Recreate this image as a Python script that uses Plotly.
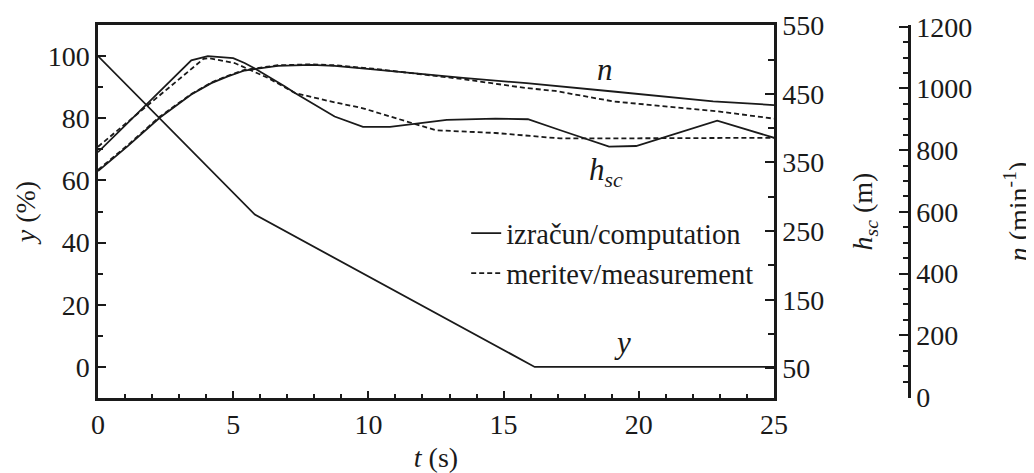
import plotly.graph_objects as go

# ---- data ----
t_y = [0, 5.8, 16.15, 25]
y_comp = [100, 49, 0, 0]

t_h_comp = [0, 3.45, 4.06, 5.0, 5.42, 5.8, 6.9, 7.3, 8.75, 9.8, 10.8, 12.9, 14.7, 15.9, 17.1, 18.9, 19.9, 22.9, 25]
h_comp = [365, 499, 505, 502, 495, 487, 461, 451, 417, 402, 402, 412, 414, 413, 397, 373, 374, 411, 386]

t_h_meas = [0, 3.9, 4.1, 5.05, 6.3, 7.3, 8.6, 9.8, 11.65, 12.5, 14.7, 17.1, 18.2, 25]
h_meas = [373, 501, 502, 495, 473, 451, 439, 429, 407, 397, 393, 385, 385, 386]

t_n_comp = [0, 1.1, 2.28, 3.45, 4.19, 4.8, 5.42, 6.65, 7.89, 8.75, 10.17, 12.27, 13.5, 15.85, 17.08, 19.05, 22.75, 25]
n_comp = [732, 813, 905, 980, 1017, 1039, 1058, 1073, 1076, 1073, 1062, 1044, 1034, 1017, 1006, 990, 958, 946]

t_n_meas = [0, 1.1, 2.28, 3.45, 4.19, 4.8, 5.42, 6.65, 7.89, 8.75, 10.17, 12.27, 13.5, 15.85, 16.9, 19.05, 22.9, 25]
n_meas = [736, 816, 908, 982, 1019, 1041, 1060, 1075, 1078, 1075, 1064, 1044, 1030, 1001, 992, 958, 926, 902]

legend_names = ["izračun/computation", "meritev/measurement"]

FONT = "Liberation Serif"
INK = "#1a1a1a"
LW = 1.8
DASH = "5px,3px"
FS = 28

fig = go.Figure()
fig.add_trace(go.Scatter(x=t_y, y=y_comp, mode="lines", name=legend_names[0],
                         line=dict(color=INK, width=LW), yaxis="y", showlegend=True))
fig.add_trace(go.Scatter(x=t_h_comp, y=h_comp, mode="lines", name=legend_names[0],
                         line=dict(color=INK, width=LW), yaxis="y2", showlegend=False))
fig.add_trace(go.Scatter(x=t_h_meas, y=h_meas, mode="lines", name=legend_names[1],
                         line=dict(color=INK, width=LW, dash=DASH), yaxis="y2", showlegend=True))
fig.add_trace(go.Scatter(x=t_n_comp, y=n_comp, mode="lines", name=legend_names[0],
                         line=dict(color=INK, width=LW), yaxis="y3", showlegend=False))
fig.add_trace(go.Scatter(x=t_n_meas, y=n_meas, mode="lines", name=legend_names[1],
                         line=dict(color=INK, width=LW, dash=DASH), yaxis="y3", showlegend=False))

tickfont = dict(family=FONT, size=FS, color=INK)
titlefont = dict(family=FONT, size=FS, color=INK)
axis_common = dict(showline=True, linewidth=2.5, linecolor=INK, showgrid=False, zeroline=False,
                   ticks="inside", tickwidth=2, tickcolor=INK, tickfont=tickfont, automargin=False)

# the page body adds an 8 px offset, so the figure is 8 px smaller than the window
fig.update_layout(
    width=1026, height=465,
    margin=dict(l=90, r=125, t=17, b=75, autoexpand=False),
    paper_bgcolor="white", plot_bgcolor="white",
    font=dict(family=FONT, color=INK),
    xaxis=dict(domain=[0, 676 / 811], range=[0, 25], dtick=5, tick0=0, ticklen=7, mirror=True,
               minor=dict(dtick=1, ticklen=4, tickwidth=1.5, tickcolor=INK, ticks="inside"),
               title=dict(text="<i>t</i> (s)", font=titlefont, standoff=15),
               **axis_common),
    yaxis=dict(range=[-10, 110], dtick=20, tick0=0, ticklen=8,
               minor=dict(dtick=10, ticklen=5, tickwidth=1.5, tickcolor=INK, ticks="inside"),
               title=dict(text="<i>y</i> (%)", font=titlefont, standoff=4),
               **axis_common),
    yaxis2=dict(overlaying="y", side="right", anchor="x", range=[6.7, 550.4], tick0=50, dtick=100,
                ticklen=9,
                minor=dict(tick0=0, dtick=50, ticklen=6, tickwidth=1.5, tickcolor=INK, ticks="inside"),
                title=dict(text="<i>h</i><sub><i>sc</i></sub> (m)", font=titlefont, standoff=30),
                **axis_common),
    yaxis3=dict(overlaying="y", side="right", anchor="free", position=1.0, range=[-3.2, 1205.5],
                tick0=0, dtick=200, ticklen=9,
                minor=dict(dtick=50, ticklen=5, tickwidth=1.5, tickcolor=INK, ticks="inside"),
                title=dict(text="<i>n</i> (min<sup>-1</sup>)", font=titlefont, standoff=43),
                **axis_common),
    legend=dict(x=0.454, y=0.509, xanchor="left", yanchor="top", bgcolor="rgba(0,0,0,0)",
                font=dict(family=FONT, size=28.5, color=INK), tracegroupgap=0, itemwidth=30),
    annotations=[
        dict(x=18.75, y=95.7, xref="x", yref="y", text="<i>n</i>", showarrow=False,
             font=dict(family=FONT, size=31, color=INK)),
        dict(x=18.8, y=62.6, xref="x", yref="y", text="<i>h</i><sub><i>sc</i></sub>", showarrow=False,
             font=dict(family=FONT, size=31, color=INK)),
        dict(x=19.4, y=7.8, xref="x", yref="y", text="<i>y</i>", showarrow=False,
             font=dict(family=FONT, size=31, color=INK)),
    ],
)

fig.write_html("out.html")
